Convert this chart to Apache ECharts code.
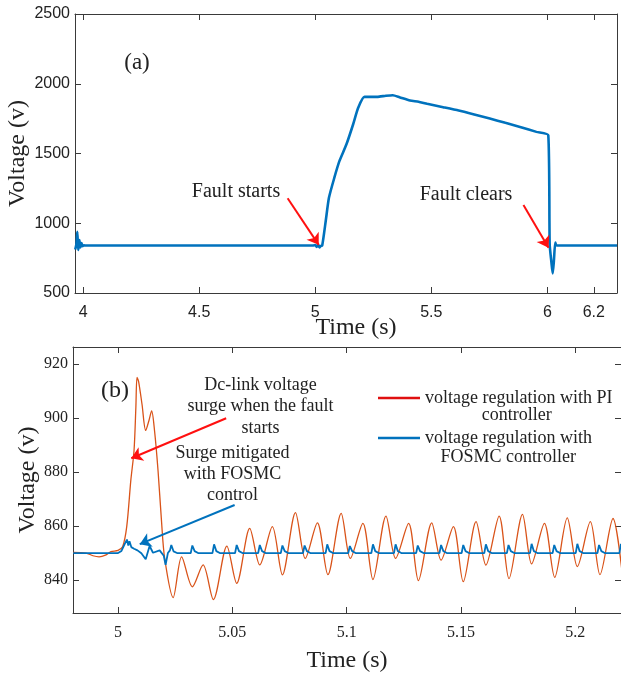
<!DOCTYPE html>
<html><head><meta charset="utf-8">
<script src="https://cdn.jsdelivr.net/npm/echarts@6/dist/echarts.min.js"></script>
<style>html,body{margin:0;padding:0;background:#fff}#c{width:621px;height:674px}</style>
</head><body><div id="c"></div>
<script>
// ---- (a) DC-link voltage over the whole fault ----
const topTime = [3.966, 3.971, 3.975, 3.979, 3.984, 3.988, 3.993, 3.998, 4.004, 4.010, 4.500, 4.990, 5.000, 5.006, 5.012, 5.018, 5.024, 5.030, 5.045, 5.059, 5.082, 5.104, 5.134, 5.163, 5.185, 5.212, 5.267, 5.304, 5.334, 5.363, 5.408, 5.445, 5.482, 5.551, 5.618, 5.685, 5.752, 5.819, 5.886, 5.953, 6.004, 6.010, 6.017, 6.023, 6.028, 6.034, 6.040, 6.300];
const topVolt = [812, 850, 939, 808, 880, 826, 858, 836, 842, 840, 840, 840, 843, 830, 848, 826, 838, 840, 1014, 1182, 1325, 1445, 1564, 1708, 1828, 1906, 1906, 1914, 1918, 1904, 1880, 1871, 1856, 1832, 1808, 1780, 1751, 1720, 1689, 1655, 1631, 847, 727, 640, 727, 862, 840, 840];
const topXTicks = [4, 4.5, 5, 5.5, 6, 6.2];
const topYTicks = [500, 1000, 1500, 2000, 2500];

// ---- (b) zoom at the start of the fault ----
const piName = 'voltage regulation with PI controller';
const fosmcName = 'voltage regulation with FOSMC controller';
const piData = [
[4.9804,850.2],[4.9860,850.0],[4.9890,849.0],[4.9917,848.6],[4.9945,849.2],[4.9969,850.5],[5.0000,851.0],[5.0020,852.3],[5.0038,859.8],[5.0056,877.0],[5.0070,888.0],[5.0078,904.0],[5.0083,915.0],[5.0090,913.5],[5.0105,905.0],[5.0121,895.4],[5.0135,899.0],[5.0147,902.6],[5.0160,895.0],[5.0175,880.5],[5.0190,862.0],[5.0204,848.0],[5.0241,833.5],[5.0278,848.6],[5.0325,837.5],[5.0372,845.6],[5.0417,832.8],[5.0476,852.6],[5.0519,838.8],[5.0576,859.1],[5.0620,845.6],[5.0675,859.8],[5.0719,841.9],[5.0776,865.0],[5.0819,848.0],[5.0872,861.2],[5.0918,842.0],[5.0976,864.7],[5.1016,848.0],[5.1071,861.0],[5.1115,840.2],[5.1172,863.7],[5.1214,848.0],[5.1271,861.0],[5.1314,839.8],[5.1372,861.2],[5.1413,847.4],[5.1467,859.8],[5.1510,839.4],[5.1566,861.6],[5.1609,845.5],[5.1667,863.7],[5.1710,840.5],[5.1769,864.3],[5.1809,846.0],[5.1865,861.0],[5.1910,841.0],[5.1965,863.0],[5.2009,845.0],[5.2066,861.6],[5.2108,842.0],[5.2165,862.8],[5.2205,842.7]
];
const fosmcData = [
[4.9804,850],[5.0000,850],[5.0015,850.8],[5.0030,853.5],[5.0039,855],[5.0045,852.8],[5.0050,854.4],[5.0058,852.2],[5.0070,851.6],[5.0085,851],[5.0102,849.9],[5.0121,847.7],[5.0138,852.6],[5.0153,850.1],[5.0182,851],[5.0200,849],[5.0208,845.6],[5.0218,850],[5.0227,851],[5.0233,853],[5.0243,850.6],[5.0258,850],
[5.0318,850],[5.0325,852.8],[5.0335,850.7],[5.0350,850],
[5.0413,850],[5.0420,853.2],[5.0430,850.7],[5.0445,850],
[5.0512,850],[5.0519,853.0],[5.0529,850.7],[5.0544,850],
[5.0613,850],[5.0620,853.0],[5.0630,850.7],[5.0645,850],
[5.0712,850],[5.0719,852.8],[5.0729,850.7],[5.0744,850],
[5.0809,850],[5.0816,852.8],[5.0826,850.7],[5.0841,850],
[5.0908,850],[5.0915,853.2],[5.0925,850.7],[5.0940,850],
[5.1007,850],[5.1014,852.6],[5.1024,850.7],[5.1039,850],
[5.1108,850],[5.1115,853.2],[5.1125,850.7],[5.1140,850],
[5.1207,850],[5.1214,853.2],[5.1224,850.7],[5.1239,850],
[5.1304,850],[5.1311,852.8],[5.1321,850.7],[5.1336,850],
[5.1406,850],[5.1413,853.0],[5.1423,850.7],[5.1438,850],
[5.1503,850],[5.1510,853.0],[5.1520,850.7],[5.1535,850],
[5.1602,850],[5.1609,853.2],[5.1619,850.7],[5.1634,850],
[5.1701,850],[5.1708,853.0],[5.1718,850.7],[5.1733,850],
[5.1802,850],[5.1809,853.4],[5.1819,850.7],[5.1834,850],
[5.1901,850],[5.1908,853.0],[5.1918,850.7],[5.1933,850],
[5.2002,850],[5.2009,853.4],[5.2019,850.7],[5.2034,850],
[5.2097,850],[5.2104,853.0],[5.2114,850.7],[5.2129,850],
[5.2193,850],[5.2200,853.4],[5.2210,850.7]
];
const botXTicks = [5, 5.05, 5.1, 5.15, 5.2];
const botYTicks = [840, 860, 880, 900, 920];

const SERIF = 'Liberation Serif';
const SANS = 'Liberation Sans';
const AX = '#3a3a3a';
const TXT = '#222';
const BLUE = '#0072BD';
const ORANGE = '#D95319';
const plain = v => String(v);

function frameAxis(grid, pos, min, max, ticks, extra) {
  return Object.assign({
    gridIndex: grid, type: 'value', position: pos, min: min, max: max,
    axisLine: { show: true, onZero: false, lineStyle: { color: AX, width: 1 } },
    axisTick: { show: true, inside: true, length: 6, customValues: ticks, lineStyle: { color: AX } },
    axisLabel: { show: false, customValues: ticks },
    splitLine: { show: false }
  }, extra || {});
}

const chart = echarts.init(document.getElementById('c'), null, { renderer: 'canvas' });
chart.setOption({
  animation: false,
  backgroundColor: '#fff',
  grid: [
    { left: 75, top: 14, width: 542, height: 279, containLabel: false, outerBoundsMode: 'none' },
    { left: 73, top: 347, right: 0, height: 266, containLabel: false, outerBoundsMode: 'none' }
  ],
  xAxis: [
    frameAxis(0, 'bottom', 3.965, 6.3, topXTicks, {
      axisLabel: { show: true, customValues: topXTicks, formatter: plain, margin: 12, fontFamily: SANS, fontSize: 16, color: TXT },
      name: 'Time (s)', nameLocation: 'middle', nameGap: 23, nameMoveOverlap: false,
      nameTextStyle: { fontFamily: SERIF, fontSize: 24, color: TXT, padding: [0, 0, 0, 20] }
    }),
    frameAxis(0, 'top', 3.965, 6.3, topXTicks),
    frameAxis(1, 'bottom', 4.9803, 5.22, botXTicks, {
      axisLabel: { show: true, customValues: botXTicks, formatter: plain, margin: 12, fontFamily: SERIF, fontSize: 16, color: TXT },
      name: 'Time (s)', nameLocation: 'middle', nameGap: 36, nameMoveOverlap: false,
      nameTextStyle: { fontFamily: SERIF, fontSize: 24, color: TXT }
    }),
    frameAxis(1, 'top', 4.9803, 5.22, botXTicks)
  ],
  yAxis: [
    frameAxis(0, 'left', 500, 2500, topYTicks, {
      axisLabel: { show: true, customValues: topYTicks, formatter: plain, margin: 5, fontFamily: SANS, fontSize: 16, color: TXT },
      name: 'Voltage (v)', nameLocation: 'middle', nameGap: 45, nameMoveOverlap: false,
      nameTextStyle: { fontFamily: SERIF, fontSize: 24, color: TXT }
    }),
    frameAxis(0, 'right', 500, 2500, topYTicks),
    frameAxis(1, 'left', 827.8, 926.3, botYTicks, {
      axisLabel: { show: true, customValues: botYTicks, formatter: plain, margin: 5, fontFamily: SERIF, fontSize: 16, color: TXT },
      name: 'Voltage (v)', nameLocation: 'middle', nameGap: 33, nameMoveOverlap: false,
      nameTextStyle: { fontFamily: SERIF, fontSize: 24, color: TXT }
    }),
    frameAxis(1, 'right', 827.8, 926.3, botYTicks)
  ],
  legend: {
    orient: 'vertical', left: 373, top: 384,
    icon: 'rect', itemWidth: 42, itemHeight: 2.5, itemGap: 22,
    textStyle: { fontFamily: SERIF, fontSize: 18, color: TXT },
    formatter: function (name) { return name === piName ? 'voltage regulation with PI' : 'voltage regulation with'; },
    data: [
      { name: piName, icon: 'rect', itemStyle: { color: '#e01010' } },
      { name: fosmcName, icon: 'rect', itemStyle: { color: BLUE } }
    ],
    selectedMode: false
  },
  series: [
    {
      name: 'DC-link voltage', type: 'line', xAxisIndex: 0, yAxisIndex: 0,
      data: topTime.map((t, i) => [t, topVolt[i]]),
      symbol: 'none', smooth: 0.2, lineStyle: { color: BLUE, width: 2.6 }, itemStyle: { color: BLUE },
      markLine: {
        silent: true, symbol: ['none', 'arrow'], symbolSize: 11, animation: false,
        label: { show: false }, emphasis: { disabled: true },
        lineStyle: { color: '#ff1010', width: 2, type: 'solid' },
        data: [
          [{ coord: [4.881, 1179] }, { coord: [5.015, 845] }],
          [{ coord: [5.897, 1131] }, { coord: [6.005, 825] }]
        ]
      }
    },
    {
      name: piName, type: 'line', xAxisIndex: 2, yAxisIndex: 2,
      data: piData, symbol: 'none', smooth: 0.3,
      lineStyle: { color: ORANGE, width: 1.3 }, itemStyle: { color: ORANGE },
      markLine: {
        silent: true, symbol: ['none', 'arrow'], symbolSize: 11, animation: false,
        label: { show: false }, emphasis: { disabled: true },
        lineStyle: { color: '#ff1010', width: 2, type: 'solid' },
        data: [[{ coord: [5.0473, 899.9] }, { coord: [5.0058, 885.1] }]]
      }
    },
    {
      name: fosmcName, type: 'line', xAxisIndex: 2, yAxisIndex: 2,
      data: fosmcData, symbol: 'none',
      lineStyle: { color: BLUE, width: 1.8 }, itemStyle: { color: BLUE },
      markLine: {
        silent: true, symbol: ['none', 'arrow'], symbolSize: 11, animation: false,
        label: { show: false }, emphasis: { disabled: true },
        lineStyle: { color: BLUE, width: 2, type: 'solid' },
        data: [[{ coord: [5.051, 867.8] }, { coord: [5.0095, 853.3] }]]
      }
    }
  ],
  graphic: [
    { type: 'text', x: 137, y: 63, style: { text: '(a)', fontFamily: SERIF, fontSize: 23, fill: TXT, align: 'center', verticalAlign: 'middle' } },
    { type: 'text', x: 236, y: 192, style: { text: 'Fault starts', fontFamily: SERIF, fontSize: 20, fill: TXT, align: 'center', verticalAlign: 'middle' } },
    { type: 'text', x: 466, y: 195, style: { text: 'Fault clears', fontFamily: SERIF, fontSize: 20, fill: TXT, align: 'center', verticalAlign: 'middle' } },
    { type: 'text', x: 115, y: 391, style: { text: '(b)', fontFamily: SERIF, fontSize: 24, fill: TXT, align: 'center', verticalAlign: 'middle' } },
    { type: 'text', x: 260.5, y: 406.7, style: { text: 'Dc-link voltage\nsurge when the fault\nstarts', fontFamily: SERIF, fontSize: 18, lineHeight: 21.7, fill: TXT, align: 'center', verticalAlign: 'middle' } },
    { type: 'text', x: 232.5, y: 474, style: { text: 'Surge mitigated\nwith FOSMC\ncontrol', fontFamily: SERIF, fontSize: 18, lineHeight: 21.2, fill: TXT, align: 'center', verticalAlign: 'middle' } },
    { type: 'text', x: 516.7, y: 415.5, style: { text: 'controller', fontFamily: SERIF, fontSize: 18, fill: TXT, align: 'center', verticalAlign: 'middle' } },
    { type: 'text', x: 508.3, y: 457.5, style: { text: 'FOSMC controller', fontFamily: SERIF, fontSize: 18, fill: TXT, align: 'center', verticalAlign: 'middle' } }
  ]
});
</script>
</body></html>
